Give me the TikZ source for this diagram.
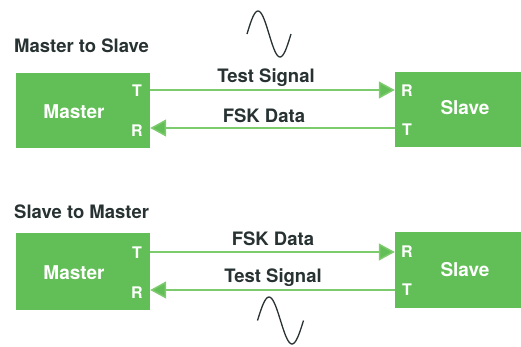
\documentclass[tikz,border=0pt]{standalone}
\usepackage{fontspec}
\setmainfont{TeX Gyre Heros}
\usetikzlibrary{arrows.meta}
\usetikzlibrary{positioning,calc}
\definecolor{boxgreen}{RGB}{98,190,86}
\definecolor{linegreen}{RGB}{124,204,110}
\definecolor{inkgray}{RGB}{40,50,50}
\tikzset{
    unit/.style={
        draw=none,
        fill=boxgreen,
        rectangle,
        inner sep=0pt
    },
    unitname/.style={
        anchor=base,
        inner sep=0pt,
        text=white,
        font=\fontsize{19}{21}\selectfont\bfseries
    },
    port/.style={
        anchor=base,
        inner sep=0pt,
        text=white,
        font=\fontsize{16}{18}\selectfont\bfseries
    },
    heading/.style={
        anchor=base west,
        inner sep=0pt,
        text=inkgray,
        font=\fontsize{18.5}{20}\selectfont\bfseries
    },
    siglabel/.style={
        anchor=base,
        inner sep=0pt,
        text=inkgray,
        font=\fontsize{18.5}{20}\selectfont\bfseries
    },
    sig/.style={
        draw=linegreen,
        line width=1.5pt,
        -{Triangle[length=16pt, width=17pt, fill=boxgreen]}
    },
    wave/.style={
        draw=inkgray,
        line width=1.3pt,
        smooth
    }
}

\begin{document}
\begin{tikzpicture}[x=1pt, y=-1pt]
  \useasboundingbox (0,0) rectangle (521,346);

  % Master to Slave
  \node[heading] (head1) at (14,52) {Master to Slave};
  \node[unit, minimum width=134pt, minimum height=75pt] (mbox1) at (83,110.5) {};
  \node[unit, minimum width=126pt, minimum height=75pt] (sbox1) at (458,109.5) {};
  \node[unitname] (mname1) at (74,118) {Master};
  \node[unitname] (sname1) at (465,114.5) {Slave};
  \node[port] (mT1) at (137,96.5) {T};
  \node[port] (mR1) at (137,136.5) {R};
  \node[port] (sR1) at (407,96) {R};
  \node[port] (sT1) at (407,135) {T};

  % Signals
  \draw[sig] (mbox1.east |- 0,90) -- (sbox1.west |- 0,90);
  \draw[sig] (sbox1.west |- 0,128) -- (mbox1.east |- 0,128);
  \node[siglabel] (lab1a) at (266,82) {Test Signal};
  \node[siglabel] (lab1b) at (264,122) {FSK Data};
  \draw[wave] plot[domain=0:360, samples=40] ({247+\x/360*44},{34-23*sin(\x)});

  % Slave to Master
  \node[heading] (head2) at (14,218) {Slave to Master};
  \node[unit, minimum width=134pt, minimum height=77pt] (mbox2) at (83,271.5) {};
  \node[unit, minimum width=126pt, minimum height=76pt] (sbox2) at (458,270) {};
  \node[unitname] (mname2) at (74,279.5) {Master};
  \node[unitname] (sname2) at (465,276.5) {Slave};
  \node[port] (mT2) at (137,258.5) {T};
  \node[port] (mR2) at (137,298.5) {R};
  \node[port] (sR2) at (407,257.5) {R};
  \node[port] (sT2) at (407,295.5) {T};

  % Signals
  \draw[sig] (mbox2.east |- 0,252) -- (sbox2.west |- 0,252);
  \draw[sig] (sbox2.west |- 0,290) -- (mbox2.east |- 0,290);
  \node[siglabel] (lab2a) at (273,245) {FSK Data};
  \node[siglabel] (lab2b) at (273,282) {Test Signal};
  \draw[wave] plot[domain=0:360, samples=40] ({257.5+\x/360*46},{320.5-23.5*sin(\x)});
\end{tikzpicture}
\end{document}
